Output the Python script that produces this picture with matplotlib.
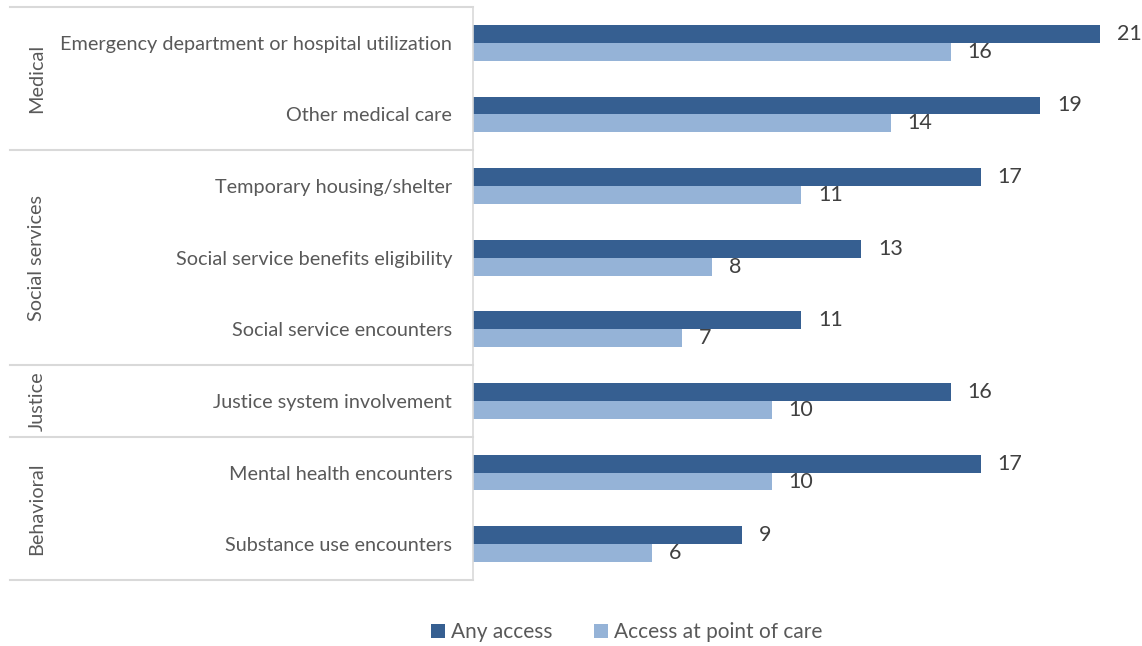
import matplotlib
matplotlib.use("Agg")
import matplotlib.pyplot as plt
import matplotlib.transforms as mtrans
import numpy as np

plt.rcParams["font.family"] = ["Lato", "DejaVu Sans"]

categories = [
    "Emergency department or hospital utilization",
    "Other medical care",
    "Temporary housing/shelter",
    "Social service benefits eligibility",
    "Social service encounters",
    "Justice system involvement",
    "Mental health encounters",
    "Substance use encounters",
]
any_access = [21, 19, 17, 13, 11, 16, 17, 9]
point_of_care = [16, 14, 11, 8, 7, 10, 10, 6]
groups = [("Medical", 0, 2), ("Social services", 2, 5), ("Justice", 5, 6), ("Behavioral", 6, 8)]

DARK = "#365F91"
LIGHT = "#95B3D7"
TXT = "#595959"
GRID = "#D9D9D9"

W, H = 1142, 646
fig = plt.figure(figsize=(W / 100, H / 100), dpi=100)
ax = fig.add_axes([473 / W, 1 - 580 / H, (1100 - 473) / W, 573 / H])

y = np.arange(len(categories)) + 0.5
bh = 0.25
b1 = ax.barh(y - bh / 2, any_access, height=bh, color=DARK, label="Any access")
b2 = ax.barh(y + bh / 2, point_of_care, height=bh, color=LIGHT, label="Access at point of care")
for bars in (b1, b2):
    ax.bar_label(bars, padding=12, fontsize=15.5, color="#404040", clip_on=False)

ax.set_xlim(0, 21)
ax.set_ylim(len(categories), 0)
ax.set_xticks([])
ax.set_yticks(y)
ax.set_yticklabels(categories, fontsize=14.3, color=TXT)
ax.tick_params(axis="y", length=0, pad=15)
for s in ("top", "right", "bottom"):
    ax.spines[s].set_visible(False)
ax.spines["left"].set_color(GRID)
ax.spines["left"].set_linewidth(1.2)

# group separators and labels on the left
tr = mtrans.blended_transform_factory(fig.transFigure, ax.transData)
x0, x1 = 10 / W, 473 / W
bounds = sorted({g[1] for g in groups} | {g[2] for g in groups})
for b in bounds:
    ax.plot([x0, x1], [b, b], transform=tr, color=GRID, lw=1.5, clip_on=False)
for name, s, e in groups:
    ax.text(37 / W, (s + e) / 2, name, transform=tr, rotation=90,
            ha="center", va="center", fontsize=14.3, color=TXT)

fig.legend(handles=[b1, b2], loc="center", bbox_to_anchor=(627 / W, 1 - 632 / H),
           ncol=2, frameon=False, fontsize=15, labelcolor=TXT,
           handlelength=0.65, handleheight=0.65, handletextpad=0.3, columnspacing=2.0)

fig.savefig("out.png", dpi=100, facecolor="white")
